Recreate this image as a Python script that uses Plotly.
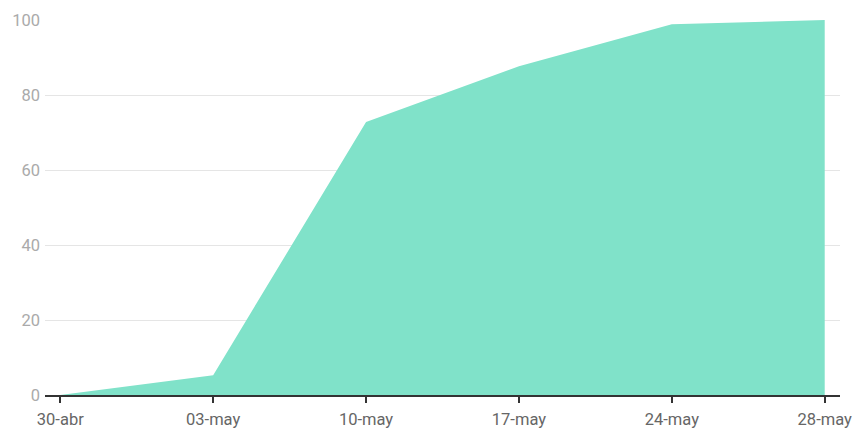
import plotly.graph_objects as go

categories = ["30-abr", "03-may", "10-may", "17-may", "24-may", "28-may"]
values = [0, 5.3, 72.8, 87.7, 98.9, 100]
y_ticks = [0, 20, 40, 60, 80, 100]

fig = go.Figure()
fig.add_trace(go.Scatter(
    x=categories, y=values, mode="lines", fill="tozeroy",
    fillcolor="rgb(128,226,201)", line=dict(width=0, color="rgb(128,226,201)"),
    hoverinfo="x+y",
))

fig.update_layout(
    width=855, height=430,
    margin=dict(l=45, r=15, t=20, b=35, autoexpand=False),
    paper_bgcolor="white", plot_bgcolor="white",
    font=dict(family="Roboto", size=16, color="#666"),
    showlegend=False,
    xaxis=dict(
        type="category", range=[-0.1, 5.1], showgrid=False, automargin=False,
        showline=True, linecolor="#333", linewidth=1.5,
        ticks="outside", ticklen=6, tickwidth=1.5, tickcolor="#333",
        tickfont=dict(size=16.5, color="#666"), zeroline=False,
        ticklabelstandoff=2,
    ),
    yaxis=dict(
        range=[0, 100], tickvals=y_ticks, showgrid=True, gridcolor="#e5e5e5",
        gridwidth=1, zeroline=False, showline=False, ticks="", automargin=False,
        tickfont=dict(size=16.5, color="#aaa"), ticklabelstandoff=4,
    ),
)

fig.write_html(
    "out.html",
    config={"displayModeBar": False},
    post_script="document.body.style.margin='0';document.body.style.overflow='hidden';",
)
